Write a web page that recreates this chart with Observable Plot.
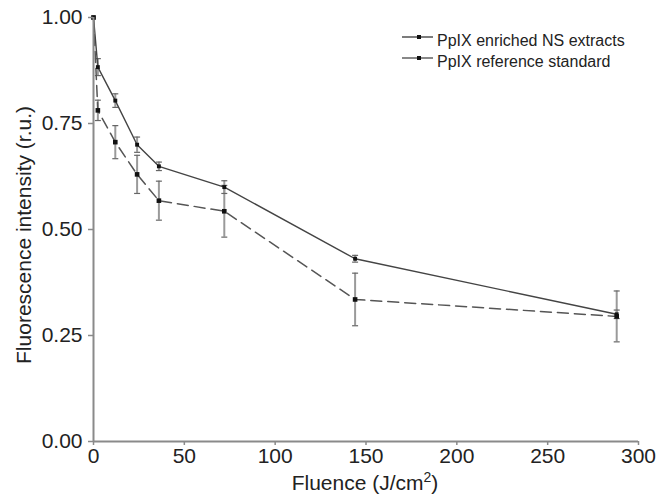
<!DOCTYPE html>
<html><head><meta charset="utf-8">
<script src="https://cdn.jsdelivr.net/npm/d3@7"></script>
<script src="https://cdn.jsdelivr.net/npm/@observablehq/plot@0.6"></script>
<style>
html,body{margin:0;padding:0;background:#fff;}
#chart{position:relative;width:656px;height:498px;}
</style></head>
<body><div id="chart"></div>
<script>
const fluence = [0, 2.4, 12, 24, 36, 72, 144, 288];
const enriched = [1.00, 0.883, 0.804, 0.700, 0.649, 0.600, 0.431, 0.300];
const enrichedErr = [0, 0.020, 0.016, 0.018, 0.010, 0.015, 0.008, 0.010];
const reference = [1.00, 0.781, 0.706, 0.630, 0.568, 0.543, 0.335, 0.295];
const referenceErr = [0, 0.024, 0.039, 0.045, 0.046, 0.061, 0.062, 0.060];
const seriesNames = ["PpIX enriched NS extracts", "PpIX reference standard"];
const xTicks = [0, 50, 100, 150, 200, 250, 300];
const yTicks = [0, 0.25, 0.5, 0.75, 1.0];

const rows = [];
fluence.forEach((f, i) => {
  rows.push({series: seriesNames[0], x: f, y: enriched[i], e: enrichedErr[i]});
  rows.push({series: seriesNames[1], x: f, y: reference[i], e: referenceErr[i]});
});
const errRows = rows.filter(d => d.e > 0);
const capSymbol = {draw(ctx, size) { const w = Math.sqrt(size / Math.PI); ctx.moveTo(-w, 0); ctx.lineTo(w, 0); }};

const font = "'Liberation Sans', Arial, Helvetica, sans-serif";
const axisColor = "#8a8a8a";

const plot = Plot.plot({
  width: 656, height: 498,
  marginLeft: 93, marginRight: 18, marginTop: 17, marginBottom: 57,
  style: {fontFamily: font, background: "#fff", color: "#222"},
  x: {domain: [0, 300]},
  y: {domain: [0, 1]},
  marks: [
    Plot.ruleX(errRows, {x: "x", y1: d => d.y - d.e, y2: d => d.y + d.e, stroke: "#9a9a9a", strokeWidth: 2}),
    Plot.dot(errRows, {x: "x", y: d => d.y - d.e, symbol: capSymbol, r: 3, stroke: "#666", strokeWidth: 1.2, fill: "none"}),
    Plot.dot(errRows, {x: "x", y: d => d.y + d.e, symbol: capSymbol, r: 3, stroke: "#666", strokeWidth: 1.2, fill: "none"}),
    Plot.line(rows.filter(d => d.series === seriesNames[1]), {x: "x", y: "y", stroke: "#555", strokeWidth: 1.5, strokeDasharray: "11,6"}),
    Plot.line(rows.filter(d => d.series === seriesNames[0]), {x: "x", y: "y", stroke: "#444", strokeWidth: 1.4}),
    Plot.dot(rows.filter(d => d.series === seriesNames[0]), {x: "x", y: "y", symbol: "square", r: 2.2, fill: "#111"}),
    Plot.dot(rows.filter(d => d.series === seriesNames[1]), {x: "x", y: "y", symbol: "square", r: 2.6, fill: "#111"}),
    Plot.ruleY([0], {stroke: axisColor, strokeWidth: 2}),
    Plot.ruleX([0], {stroke: axisColor, strokeWidth: 2}),
    Plot.axisX({ticks: xTicks, tickSize: 4, tickPadding: 3, stroke: axisColor, strokeWidth: 1.5, fontSize: 21, label: null, tickFormat: d => String(d), fill: "#222"}),
    Plot.axisY({ticks: yTicks, tickSize: 5, tickPadding: 6, stroke: axisColor, strokeWidth: 1.5, fontSize: 21, label: null, tickFormat: d3.format(".2f"), fill: "#222"})
  ]
});
document.getElementById("chart").appendChild(plot);

const svg = d3.select(plot);
// axis titles
const xt = svg.append("text").attr("x", 365).attr("y", 490).attr("text-anchor", "middle")
  .attr("font-family", font).attr("font-size", 21).attr("fill", "#222");
xt.append("tspan").text("Fluence (J/cm");
xt.append("tspan").attr("font-size", 14).attr("dy", -8).text("2");
xt.append("tspan").attr("dy", 8).text(")");
svg.append("text").attr("transform", "translate(31,235) rotate(-90)").attr("text-anchor", "middle")
  .attr("font-family", font).attr("font-size", 21).attr("fill", "#222").text("Fluorescence intensity (r.u.)");

// legend
const leg = svg.append("g").attr("font-family", font).attr("font-size", 16).attr("fill", "#222").attr("text-anchor", "start");
seriesNames.forEach((name, i) => {
  const y = 37 + i * 21;
  leg.append("line").attr("x1", 402).attr("x2", 433).attr("y1", y).attr("y2", y)
    .attr("stroke", i ? "#555" : "#444").attr("stroke-width", 1.4);
  leg.append("rect").attr("x", 417).attr("y", y - 2).attr("width", 4).attr("height", 4).attr("fill", "#111");
  leg.append("text").attr("x", 437).attr("y", y + 9).attr("text-anchor", "start").text(name);
});
</script>
</body></html>
